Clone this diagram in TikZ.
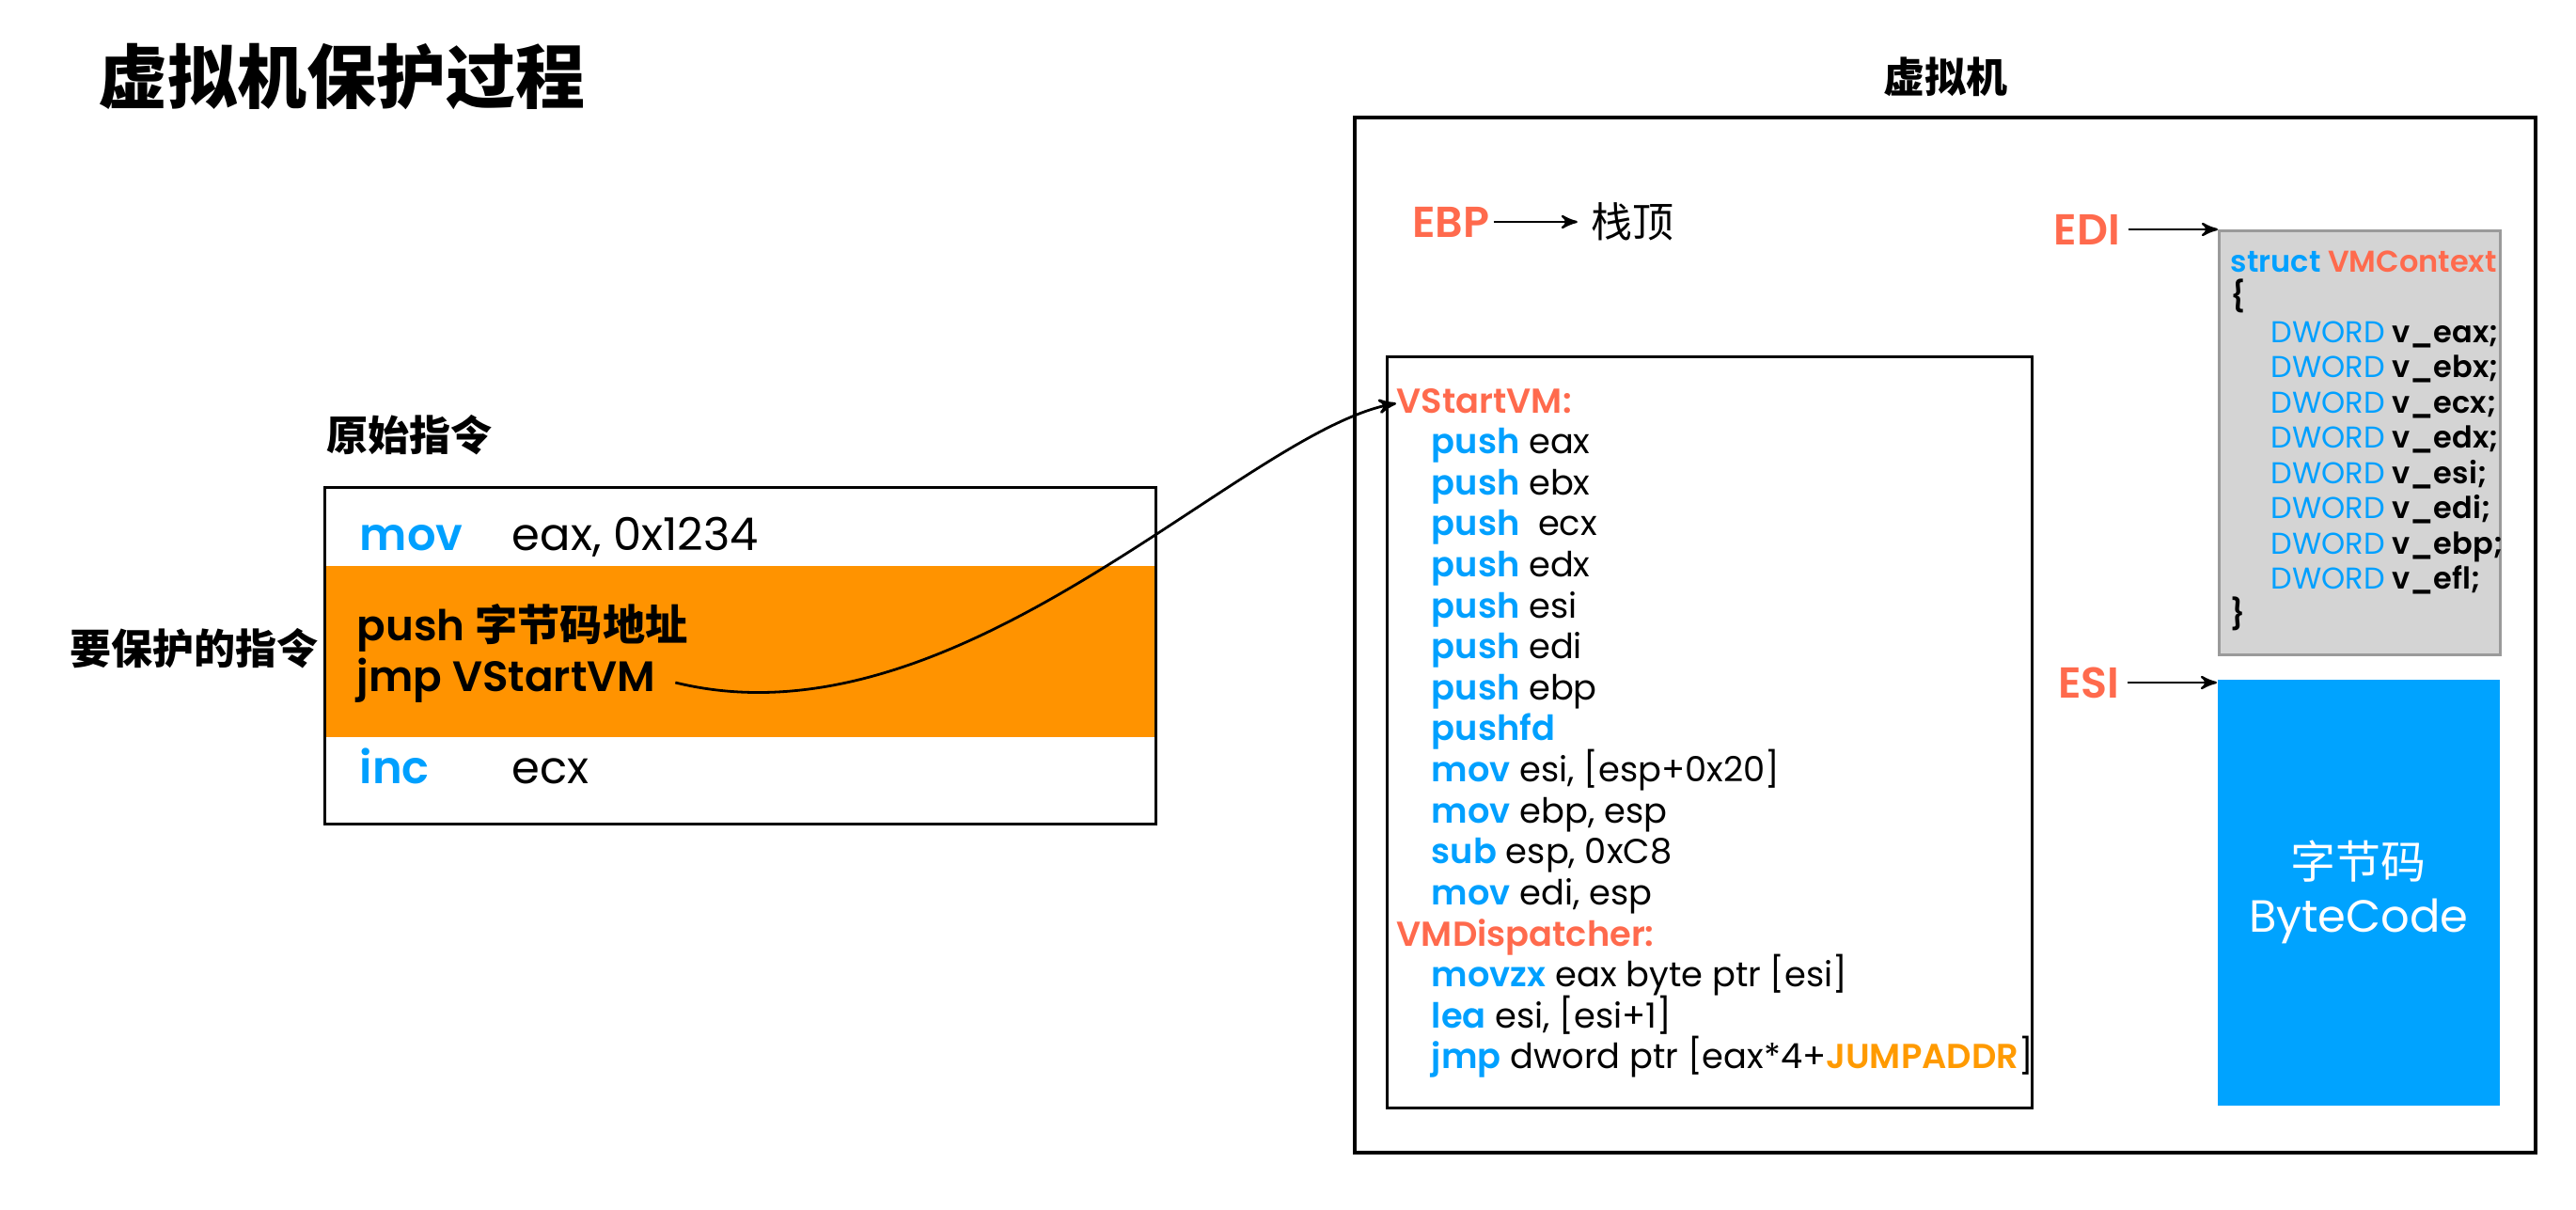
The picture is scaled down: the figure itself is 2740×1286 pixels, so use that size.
\documentclass[tikz,border=0pt]{standalone}
\usepackage{fontspec}
\setmainfont{Poppins}[BoldFont={Poppins SemiBold}]
\newfontfamily\cjk{Noto Sans CJK SC}
\usetikzlibrary{arrows,positioning}

\definecolor{kwblue}{HTML}{00A0FF}
\definecolor{lblred}{HTML}{FF6A4D}
\definecolor{bandorange}{HTML}{FF9300}
\definecolor{addrorange}{HTML}{FF9A00}
\definecolor{ctxgray}{HTML}{D4D4D4}
\definecolor{ctxedge}{HTML}{9A9A9A}
\definecolor{bcblue}{HTML}{00A3FF}

\begin{document}
\begin{tikzpicture}[x=0.25pt, y=-0.25pt, >=stealth',
    heading/.style={font=\cjk\bfseries\fontsize{11}{13}\selectfont},
    reglabel/.style={text=lblred, font=\bfseries\fontsize{11.5}{13}\selectfont},
    ptr/.style={->, line width=0.6pt},
    asm/.style={anchor=west, inner sep=0pt, text height=9pt, text depth=2.5pt, font=\fontsize{12}{14}\selectfont},
    codeline/.style={anchor=west, inner sep=0pt, text height=7pt, text depth=2pt, font=\fontsize{9.2}{11}\selectfont},
    ctxline/.style={anchor=west, inner sep=0pt, text height=6pt, text depth=1.6pt, font=\bfseries\fontsize{8}{9}\selectfont}]

  \useasboundingbox (0,0) rectangle (2740,1286);

  % title
  \node[anchor=west, font=\cjk\bfseries\fontsize{18.5}{20}\selectfont] (title) at (90,82) {虚拟机保护过程};

  % original instructions
  \node[heading, anchor=west] (origlbl) at (333,463) {原始指令};
  \fill[bandorange] (345,602) rectangle (1229,784);
  \draw[line width=0.75pt] (345,518) rectangle (1229,876);
  \node[asm] (mov) at (382,572) {\textcolor{kwblue}{\bfseries mov}};
  \node[asm] (movarg) at (544,572) {eax, 0x1234};
  \node[asm, font=\bfseries\fontsize{11.3}{14}\selectfont] (pushl) at (379,668) {push {\cjk 字节码地址}};
  \node[asm, font=\bfseries\fontsize{11.3}{14}\selectfont] (jmpl) at (379,722) {jmp VStartVM};
  \node[asm] (inc) at (382,820) {\textcolor{kwblue}{\bfseries inc}};
  \node[asm] (incarg) at (544,820) {ecx};
  \node[heading, anchor=west] (protlbl) at (60,690) {要保护的指令};

  % virtual machine
  \node[heading] (vmlbl) at (2069,82) {虚拟机};
  \draw[line width=1pt] (1441,125) rectangle (2697,1226);
  \node[reglabel, inner sep=1pt] (ebp) at (1543,236) {EBP};
  \node[font=\cjk\fontsize{11}{13}\selectfont] (stacktop) at (1736,236) {栈顶};
  \draw[ptr] (ebp) -- (stacktop);

  % handler code
  \draw[line width=0.75pt] (1475,379) rectangle (2161,1178);
  \node[codeline] (vstart) at (1485,429) {\textcolor{lblred}{\bfseries VStartVM:}};
  \foreach \op/\arg [count=\k] in {push/eax, push/ebx, push/{\ ecx}, push/edx, push/esi, push/edi, push/ebp, pushfd/{}, mov/{esi, [esp+0x20]}, mov/{ebp, esp}, sub/{esp, 0xC8}, mov/{edi, esp}}
    \node[codeline] (start\k) at (1522,{429+\k*43.6}) {\textcolor{kwblue}{\bfseries\op} \arg};
  \node[codeline] (vmdisp) at (1485,996) {\textcolor{lblred}{\bfseries VMDispatcher:}};
  \foreach \op/\arg [count=\k] in {movzx/{eax byte ptr [esi]}, lea/{esi, [esi+1]}, jmp/{dword ptr [eax*4+\textcolor{addrorange}{\bfseries JUMPADDR}]}}
    \node[codeline] (disp\k) at (1522,{996+\k*43.6}) {\textcolor{kwblue}{\bfseries\op} \arg};

  \draw[ptr, line width=0.7pt] ([xshift=5pt,yshift=-1pt]jmpl.east) .. controls (1020,800) and (1320,460) .. (vstart.west);

  % context and bytecode
  \node[draw=ctxedge, fill=ctxgray, line width=0.8pt, minimum width=74.75pt, minimum height=112.75pt, anchor=north west, inner sep=0pt] (ctx) at (2359,244) {};
  \node[ctxline] (structl) at (2372,281) {\textcolor{kwblue}{struct} \textcolor{lblred}{VMContext}};
  \node[ctxline] (lbrace) at (2372,318) {\{};
  \foreach \reg [count=\k] in {eax,ebx,ecx,edx,esi,edi,ebp,efl}
    \node[ctxline] (field\k) at (2415,{318+\k*37.5}) {\textcolor{kwblue}{\mdseries DWORD} v\_\reg;};
  \node[ctxline] (rbrace) at (2372,656) {\}};
  \node[reglabel, inner sep=2pt] (edi) at (2220,244) {EDI};
  \draw[ptr] (edi) -- (edi -| ctx.west);

  \node[fill=bcblue, minimum width=75pt, minimum height=113.25pt, anchor=north west, text=white, align=center, font=\fontsize{12}{14.25}\selectfont] (bytecode) at (2358,722) {{\cjk 字节码}\\ByteCode};
  \node[reglabel, inner sep=2pt] (esi) at (2222,726) {ESI};
  \draw[ptr] (esi) -- (esi -| bytecode.west);
\end{tikzpicture}
\end{document}
